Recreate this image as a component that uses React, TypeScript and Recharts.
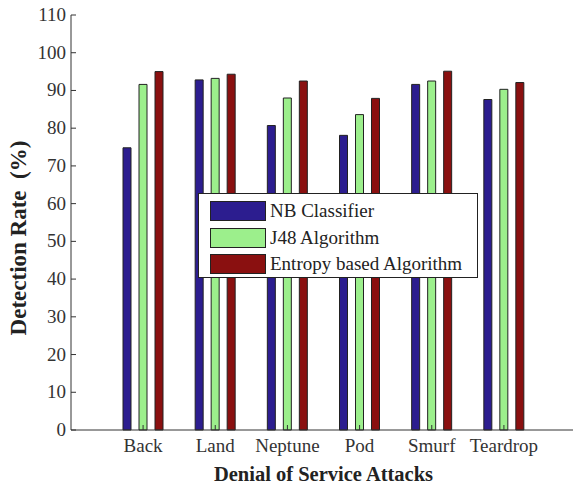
import React from 'react';
import { BarChart, Bar, XAxis, YAxis, Legend } from 'recharts';

const categories = ['Back', 'Land', 'Neptune', 'Pod', 'Smurf', 'Teardrop'];
const nbClassifier = [74.8, 92.8, 80.7, 78.1, 91.6, 87.6];
const j48Algorithm = [91.6, 93.2, 88.0, 83.6, 92.5, 90.3];
const entropyBased = [95.0, 94.3, 92.5, 87.9, 95.1, 92.1];
const yTicks = [0, 10, 20, 30, 40, 50, 60, 70, 80, 90, 100, 110];

const data = categories.map((name, i) => ({
  name,
  nb: nbClassifier[i],
  j48: j48Algorithm[i],
  entropy: entropyBased[i],
}));

const FONT = 'Liberation Serif';

const series = [
  { key: 'nb', name: 'NB Classifier', color: '#2c1d8f' },
  { key: 'j48', name: 'J48 Algorithm', color: '#9cef8c' },
  { key: 'entropy', name: 'Entropy based Algorithm', color: '#8a1010' },
];

function LegendBox() {
  return (
    <div
      style={{
        width: 280,
        height: 85,
        border: '1px solid #222',
        background: '#fff',
        boxSizing: 'border-box',
        padding: '4px 0 0 11px',
        fontFamily: FONT,
        fontSize: 19,
        color: '#222',
      }}
    >
      {series.map((s) => (
        <div key={s.key} style={{ display: 'flex', alignItems: 'center', height: 26.5 }}>
          <div
            style={{
              width: 56,
              height: 20,
              background: s.color,
              border: '1px solid #222',
              boxSizing: 'border-box',
              marginRight: 4,
            }}
          />
          <span>{s.name}</span>
        </div>
      ))}
    </div>
  );
}

function YTitle() {
  return (
    <text
      x={18}
      y={238}
      transform="rotate(-90, 18, 238)"
      textAnchor="middle"
      dominantBaseline="central"
      style={{ fontFamily: FONT, fontSize: 23, fontWeight: 'bold', whiteSpace: 'pre' }}
      fill="#222"
    >
      {'Detection Rate  (%)'}
    </text>
  );
}

function Tick(props: any) {
  const { x, y, payload, textAnchor, dy } = props;
  return (
    <text
      x={x}
      y={y}
      dy={dy}
      textAnchor={textAnchor}
      fill="#333"
      style={{ fontFamily: FONT, fontSize: 19 }}
    >
      {payload.value}
    </text>
  );
}

export default function App() {
  return (
    <div style={{ position: 'absolute', left: 0, top: 0, background: '#fff' }}>
      <BarChart
        width={590}
        height={484}
        data={data}
        margin={{ top: 15, right: 14, left: 0, bottom: 0 }}
        barSize={8}
        barGap={8}
      >
        <XAxis
          dataKey="name"
          height={54}
          padding={{ left: 36, right: 36 }}
          stroke="#333"
          tickSize={-5}
          tickMargin={1}
          tick={(p: any) => <Tick {...p} dy={26} />}
          interval={0}
          label={{
            value: 'Denial of Service Attacks',
            position: 'insideBottom',
            offset: 3,
            style: { fontFamily: FONT, fontSize: 20.5, fontWeight: 'bold', fill: '#222' },
          }}
        />
        <XAxis
          xAxisId="top"
          dataKey="name"
          orientation="top"
          height={0}
          padding={{ left: 36, right: 36 }}
          stroke="#333"
          tickSize={-5}
          tickFormatter={() => ''}
          interval={0}
        />
        <YAxis
          domain={[0, 110]}
          ticks={yTicks}
          width={71}
          stroke="#333"
          tickSize={-5}
          tickMargin={10}
          tick={(p: any) => <Tick {...p} dy={6} />}
          interval={0}
          label={{ content: <YTitle /> }}
        />
        <YAxis
          yAxisId="right"
          orientation="right"
          domain={[0, 110]}
          ticks={yTicks}
          width={0}
          stroke="#333"
          tickSize={-5}
          tickFormatter={() => ''}
          interval={0}
        />
        <Legend
          layout="vertical"
          align="center"
          verticalAlign="middle"
          content={() => <LegendBox />}
          wrapperStyle={{ left: 198, top: 193, width: 280, height: 86 }}
        />
        {series.map((s) => (
          <Bar
            key={s.key}
            dataKey={s.key}
            name={s.name}
            fill={s.color}
            stroke="#222"
            strokeWidth={1}
            isAnimationActive={false}
          />
        ))}
      </BarChart>
    </div>
  );
}
